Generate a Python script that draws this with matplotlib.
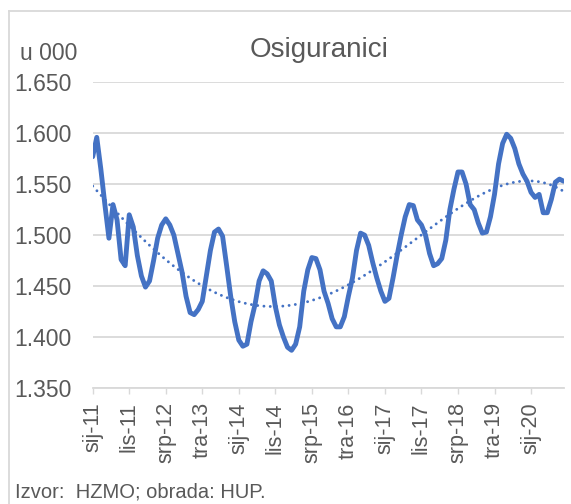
import numpy as np
import matplotlib
matplotlib.use("Agg")
import matplotlib.pyplot as plt
from matplotlib.lines import Line2D

plt.rcParams['font.family'] = ['Liberation Sans', 'DejaVu Sans']

# ---- data -------------------------------------------------------------
month_names = ['sij', 'velj', 'ožu', 'tra', 'svi', 'lip',
               'srp', 'kol', 'ruj', 'lis', 'stu', 'pro']
start_year = 2011

insured = [
    1.577, 1.596, 1.565, 1.530, 1.497, 1.530, 1.515, 1.476, 1.470, 1.520,
    1.508, 1.480, 1.460, 1.449, 1.455, 1.475, 1.497, 1.510, 1.516, 1.510,
    1.500, 1.482, 1.464, 1.440, 1.424, 1.422, 1.427, 1.435, 1.460, 1.485,
    1.503, 1.506, 1.499, 1.470, 1.440, 1.415, 1.397, 1.391, 1.393, 1.415,
    1.432, 1.455, 1.465, 1.462, 1.455, 1.430, 1.412, 1.400, 1.390, 1.387,
    1.393, 1.410, 1.445, 1.466, 1.478, 1.477, 1.466, 1.445, 1.433, 1.418,
    1.410, 1.410, 1.420, 1.440, 1.458, 1.485, 1.502, 1.500, 1.490, 1.473,
    1.458, 1.445, 1.435, 1.438, 1.458, 1.480, 1.500, 1.518, 1.530, 1.529,
    1.515, 1.510, 1.500, 1.482, 1.470, 1.472, 1.477, 1.495, 1.525, 1.545,
    1.562, 1.562, 1.550, 1.530, 1.525, 1.512, 1.502, 1.503, 1.518, 1.540,
    1.570, 1.590, 1.599, 1.595, 1.585, 1.570, 1.560, 1.553, 1.542, 1.537,
    1.540, 1.522, 1.522, 1.535, 1.552, 1.555, 1.553,
]

categories = [f"{month_names[i % 12]}-{(start_year + i // 12) % 100:02d}"
              for i in range(len(insured))]

tick_labels = ['sij-11', 'lis-11', 'srp-12', 'tra-13', 'sij-14', 'lis-14',
               'srp-15', 'tra-16', 'sij-17', 'lis-17', 'srp-18', 'tra-19',
               'sij-20']
y_ticks = [1.350, 1.400, 1.450, 1.500, 1.550, 1.600, 1.650]

title = 'Osiguranici'
unit_label = 'u 000'
source = 'Izvor:  HZMO; obrada: HUP.'
trend_order = 4

# ---- style ------------------------------------------------------------
LINE = '#4472C4'
GRID = '#D9D9D9'
TXT = '#595959'
W, H = 571, 504

fig = plt.figure(figsize=(W / 100, H / 100), dpi=100)
ax = fig.add_axes([92.7 / W, 1 - 388 / H, (563.5 - 92.7) / W, (388 - 82.3) / H])

x = np.arange(len(insured))
y = np.array(insured)

# polynomial trendline fitted to the series, as in the source chart
coef = np.polyfit(x, y, trend_order)
trend = np.polyval(coef, x)

ax.plot(x, trend, color=LINE, lw=2.1, linestyle=(0, (0.01, 2.15)),
        dash_capstyle='round', zorder=3)
ax.plot(x, y, color=LINE, lw=3.5, solid_joinstyle='round',
        solid_capstyle='round', zorder=4)

ax.set_xlim(0, len(insured) - 1)
ax.set_ylim(1.35, 1.65)

tick_pos = [categories.index(t) for t in tick_labels]
ax.set_xticks(tick_pos)
ax.set_xticklabels(tick_labels, rotation=90, fontsize=15.5, color=TXT)
ax.set_yticks(y_ticks)
ax.set_yticklabels([f"{v:.3f}" for v in y_ticks], fontsize=16.5, color=TXT)

ax.grid(axis='y', color=GRID, lw=1.3)
ax.set_axisbelow(True)
for s in ['left', 'right', 'top']:
    ax.spines[s].set_visible(False)
ax.spines['bottom'].set_color(GRID)
ax.spines['bottom'].set_linewidth(1.3)
ax.tick_params(axis='x', length=4.3, width=1, color=GRID, pad=6)
ax.tick_params(axis='y', length=0, pad=15)

fig.text(250 / W, 1 - 57 / H, title, fontsize=20, color=TXT,
         ha='left', va='baseline')
fig.text(20 / W, 1 - 60 / H, unit_label, fontsize=16.5, color=TXT,
         ha='left', va='baseline')
fig.text(15 / W, 1 - 497 / H, source, fontsize=14.5, color=TXT,
         ha='left', va='baseline')

# chart-area frame (left and top edges visible)
fig.add_artist(Line2D([9 / W, 9 / W], [0, 1 - 11 / H], transform=fig.transFigure,
                      color=GRID, lw=1.3))
fig.add_artist(Line2D([9 / W, 1], [1 - 11 / H, 1 - 11 / H], transform=fig.transFigure,
                      color=GRID, lw=1.3))

fig.savefig('out.png', dpi=100)
